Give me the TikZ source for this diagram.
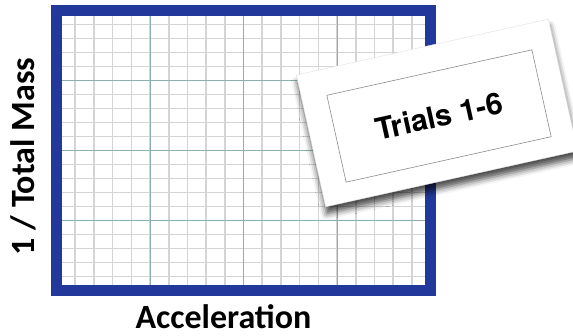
\documentclass[tikz,border=0pt]{standalone}
\usepackage{fontspec}
\usepackage{tikz}
\usetikzlibrary{shadows.blur}
\newfontfamily\labelfont{Carlito}
\newfontfamily\cardfont{TeX Gyre Heros}
\definecolor{frameblue}{RGB}{35,56,155}
\definecolor{minorgray}{RGB}{212,212,212}
\definecolor{majorteal}{RGB}{140,176,174}

\begin{document}
\begin{tikzpicture}[x=1pt, y=1pt,
    minorline/.style={minorgray, line width=1.6pt},
    majorline/.style={majorteal, line width=1pt},
    axislabel/.style={font=\labelfont\bfseries\fontsize{34}{40}\selectfont, inner sep=0pt}]
    \useasboundingbox (0,0) rectangle (573,336);

    % Graph paper (frame centre line from (56.5,45.5) to (430.5,325.5))
    \begin{scope}[shift={(56.5,45.5)}]
      \clip (0,0) rectangle (374,280);
      \foreach \i in {0,1,...,20} \draw[minorline] (\i*18.7,0) -- (\i*18.7,280);
      \foreach \i in {0,1,...,20} \draw[minorline] (0,\i*14) -- (374,\i*14);
      \foreach \i in {0,1,...,4} \draw[majorline] (\i*93.5,0) -- (\i*93.5,280);
      \foreach \i in {0,1,...,4} \draw[majorline] (0,\i*70) -- (374,\i*70);
    \end{scope}

    % Blue frame
    \draw[frameblue, line width=11pt] (56.5,45.5) rectangle (430.5,325.5);

    % Axis labels
    \node[axislabel, anchor=base] (xlabel) at (223.5,7) {Acceleration};
    \node[axislabel, anchor=base, rotate=90] (ylabel) at (34,179.5) {1 / Total Mass};

    % Card with label
    \node[fill=white, draw=black!12, rotate=12.5, minimum width=258pt, minimum height=135pt,
          blur shadow={shadow xshift=1pt, shadow yshift=-7pt, shadow blur radius=6pt, shadow opacity=70}] (card) at (437,223) {};
    \node[draw=black!45, line width=0.6pt, rotate=12.5, minimum width=210pt, minimum height=89pt,
          font=\cardfont\bfseries\fontsize{30}{36}\selectfont] (trials) at (439,220) {Trials 1-6};
\end{tikzpicture}
\end{document}
